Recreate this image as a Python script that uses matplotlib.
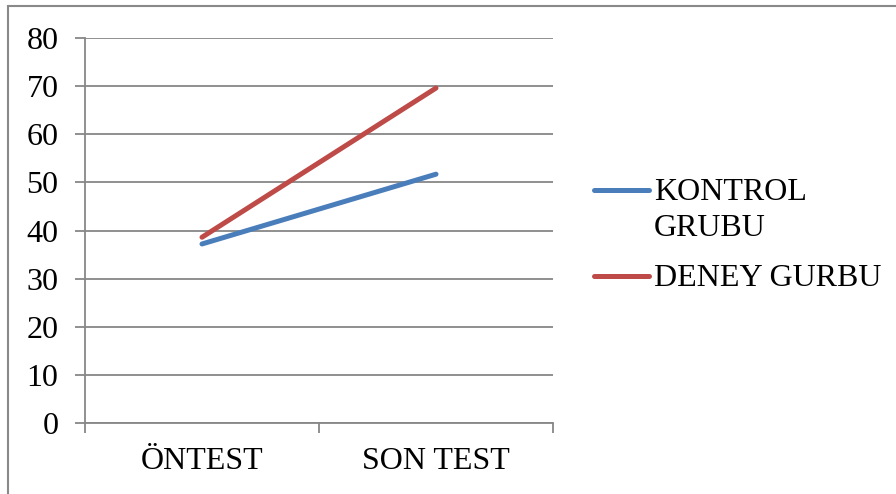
import matplotlib.pyplot as plt
from matplotlib.patches import Rectangle
from matplotlib.lines import Line2D

categories = ['ÖNTEST', 'SON TEST']
kontrol = [37.2, 51.7]
deney = [38.6, 69.6]
series_names = ['KONTROL\nGRUBU', 'DENEY GURBU']
colors = ['#4a7ebb', '#be4b48']

plt.rcParams['font.family'] = ['Liberation Serif', 'DejaVu Serif']

fig = plt.figure(figsize=(8.96, 4.94), dpi=100)
W, H = 896, 494

# outer chart frame
fig.patches.append(Rectangle((8 / W, -0.1), 1.2, (494 - 6) / H + 0.1,
                             transform=fig.transFigure, fill=False,
                             edgecolor='#898989', linewidth=1.5))

ax = fig.add_axes([85 / W, (H - 423) / H, 468 / W, 385 / H])

x = [0.5, 1.5]
ax.plot(x, kontrol, color=colors[0], linewidth=3.6, solid_capstyle='round')
ax.plot(x, deney, color=colors[1], linewidth=3.6, solid_capstyle='round')

ax.set_xlim(0, 2)
ax.set_ylim(0, 80)
ax.set_yticks(range(0, 81, 10))
ax.yaxis.grid(True, color='#878787', linewidth=1.3)
ax.set_axisbelow(True)

ax.set_xticks([0, 1, 2])
ax.set_xticklabels([])
ax.set_xticks(x, minor=True)
ax.set_xticklabels(categories, minor=True)
ax.tick_params(axis='x', which='major', length=7, width=1.3, color='#878787', direction='out')
ax.tick_params(axis='x', which='minor', length=0, pad=17, labelsize=23)
ax.tick_params(axis='y', length=7, width=1.3, color='#878787', direction='out', pad=12, labelsize=23)

for s in ['top', 'right']:
    ax.spines[s].set_visible(False)
for s in ['left', 'bottom']:
    ax.spines[s].set_color('#878787')
    ax.spines[s].set_linewidth(1.3)

# legend, line sample level with the first text line
leg_y = [190, 276]
for name, c, yy in zip(series_names, colors, leg_y):
    fig.add_artist(Line2D([594 / W, 649 / W], [1 - yy / H, 1 - yy / H],
                          transform=fig.transFigure, color=c, linewidth=3.6,
                          solid_capstyle='round'))
    for i, part in enumerate(name.split('\n')):
        fig.text(654 / W, 1 - (yy + 10 + 36 * i) / H, part, fontsize=23,
                 va='baseline', ha='left')

plt.savefig('out.png', dpi=100)
